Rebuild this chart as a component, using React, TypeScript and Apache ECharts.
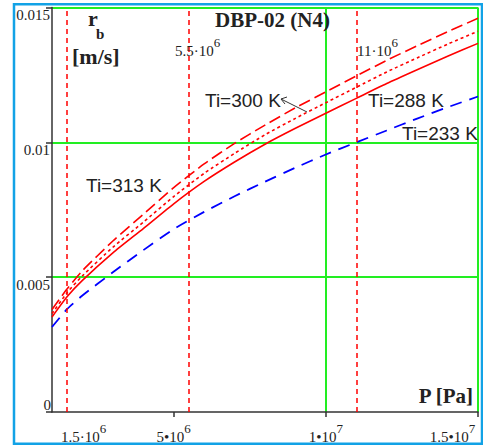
import React, { useEffect, useRef } from 'react';
import * as echarts from 'echarts';

// Pressure (Pa) sample points read along the x axis
const pressurePa = [1e6, 1.5e6, 2e6, 3e6, 4e6, 5e6, 6e6, 7e6, 8e6, 9e6, 1e7, 1.1e7, 1.2e7, 1.3e7, 1.4e7, 1.5e7];
// Burning rate r_b (m/s) for each initial temperature
const rb313 = [0.0038, 0.00457, 0.00524, 0.00634, 0.00733, 0.00832, 0.0092, 0.00996, 0.01064, 0.01128, 0.01187, 0.01246, 0.01304, 0.01358, 0.0141, 0.0146];
const rb300 = [0.00365, 0.00443, 0.00505, 0.00611, 0.00704, 0.00799, 0.00885, 0.00959, 0.01028, 0.01089, 0.01147, 0.01204, 0.01261, 0.01313, 0.01364, 0.01412];
const rb288 = [0.00352, 0.00428, 0.00488, 0.0059, 0.0068, 0.00772, 0.00855, 0.00927, 0.00993, 0.01052, 0.01108, 0.01163, 0.01218, 0.01269, 0.01319, 0.01367];
const rb233 = [0.00315, 0.00382, 0.00432, 0.00518, 0.006, 0.00678, 0.00742, 0.008, 0.00854, 0.00906, 0.00955, 0.01, 0.01044, 0.01088, 0.0113, 0.0117];

const yTickValues = [0, 0.005, 0.01, 0.015];
const yTickLabels = ['0', '0.005', '0.01', '0.015'];
const xTickValues = [5e6, 1e7, 1.5e7];
const xLabelValues = [1.5e6, 5e6, 1e7, 1.5e7];
const xLabelMantissas = ['1.5·10', '5•10', '1•10', '1.5•10'];
const xLabelExponents = ['6', '6', '7', '7'];
const markerPressures = [1.5e6, 5.5e6, 1.1e7];
const seriesNames = ['Ti=313 K', 'Ti=300 K', 'Ti=288 K', 'Ti=233 K'];

const SERIF = '"Liberation Serif", "Times New Roman", serif';
const SANS = '"Liberation Sans", Arial, sans-serif';
const INK = '#222222';
const GREEN = '#22ee22';
const RED = '#ff0000';
const BLUE = '#0000ff';

export default function App() {
  const ref = useRef<HTMLDivElement>(null);

  useEffect(() => {
    const chart = echarts.init(ref.current as HTMLDivElement, null, { renderer: 'svg' });
    const pts = (ys: number[]) => pressurePa.map((p, i) => [p, ys[i]]);

    const m = { fontFamily: SERIF, fontSize: 15, lineHeight: 30, color: INK, verticalAlign: 'middle' };
    const s = { fontFamily: SERIF, fontSize: 13, lineHeight: 13, color: INK, verticalAlign: 'top' };
    const xRich: any = {
      m,
      s,
      ml: { ...m, padding: [0, 0, 0, 33] },
      sr: { ...s, padding: [0, 51, 0, 0] },
    };

    const labelFor = (v: number) => {
      const i = xLabelValues.findIndex((x) => Math.abs(x - v) < 1);
      if (i < 0) return '';
      const mk = i === 0 ? 'ml' : 'm';
      const sk = i === xLabelValues.length - 1 ? 'sr' : 's';
      return `{${mk}|${xLabelMantissas[i]}}{${sk}|${xLabelExponents[i]}}`;
    };
    const yLabelFor = (v: number) => {
      const i = yTickValues.findIndex((y) => Math.abs(y - v) < 1e-9);
      return i < 0 ? '' : yTickLabels[i];
    };

    const supRich = (x: number, y: number, mant: string, exp: string, align: string) => ({
      type: 'text',
      x,
      y,
      z: 100,
      style: {
        text: `{m|${mant}}{s|${exp}}`,
        align,
        verticalAlign: 'middle',
        rich: {
          m: { fontFamily: SERIF, fontSize: 15, lineHeight: 30, fill: INK, verticalAlign: 'middle' },
          s: { fontFamily: SERIF, fontSize: 13, lineHeight: 13, fill: INK, verticalAlign: 'top' },
        },
      },
    });

    const tiText = (x: number, y: number, text: string) => ({
      type: 'text',
      x,
      y,
      z: 100,
      style: { text, fontFamily: SANS, fontSize: 19, fill: INK, verticalAlign: 'middle', align: 'left' },
    });

    chart.setOption({
      animation: false,
      backgroundColor: '#ffffff',
      grid: { left: 52, right: 5, top: 7.5, bottom: 36, containLabel: false, outerBoundsMode: 'none' },
      xAxis: {
        type: 'value',
        min: 1e6,
        max: 1.5e7,
        axisLine: { show: true, onZero: false, lineStyle: { color: '#333333', width: 1.5 } },
        axisTick: { show: true, customValues: xTickValues, length: 5, lineStyle: { color: '#333333', width: 1.5 } },
        axisLabel: { show: true, customValues: xLabelValues, formatter: labelFor, rich: xRich, margin: 10 },
        splitLine: { show: true, showMinLine: false, lineStyle: { color: GREEN, width: 2 } },
      },
      yAxis: [
        {
          type: 'value',
          min: 0,
          max: 0.015,
          interval: 0.005,
          position: 'left',
          axisLine: { show: true, lineStyle: { color: '#333333', width: 1.5 } },
          axisTick: { show: true, length: 6, lineStyle: { color: '#333333', width: 1.5 } },
          axisLabel: {
            formatter: (v: number) => (v === 0 ? '' : yLabelFor(v)),
            verticalAlign: 'top',
            align: 'right',
            margin: 2,
            fontFamily: SERIF,
            fontSize: 15,
            color: INK,
          },
          splitLine: { show: true, showMinLine: false, lineStyle: { color: GREEN, width: 2 } },
        },
        {
          type: 'value',
          min: 0,
          max: 0.015,
          interval: 0.005,
          position: 'left',
          offset: 0,
          axisLine: { show: false },
          axisTick: { show: false },
          splitLine: { show: false },
          axisLabel: {
            formatter: (v: number) => (v === 0 ? yTickLabels[0] : ''),
            verticalAlign: 'bottom',
            align: 'right',
            margin: 1,
            fontFamily: SERIF,
            fontSize: 15,
            color: INK,
          },
        },
      ],
      series: [
        {
          name: seriesNames[0],
          type: 'line',
          data: pts(rb313),
          showSymbol: false,
          smooth: 0.2,
          lineStyle: { color: RED, width: 1.6, type: [12, 5] },
        },
        {
          name: seriesNames[1],
          type: 'line',
          data: pts(rb300),
          showSymbol: false,
          smooth: 0.2,
          lineStyle: { color: RED, width: 1.6, type: [3, 3] },
        },
        {
          name: seriesNames[2],
          type: 'line',
          data: pts(rb288),
          showSymbol: false,
          smooth: 0.2,
          lineStyle: { color: RED, width: 1.6, type: 'solid' },
          markLine: {
            silent: true,
            symbol: ['none', 'none'],
            label: { show: false },
            lineStyle: { color: RED, width: 1.5, type: [5, 4] },
            data: markerPressures.map((p) => ({ xAxis: p })),
          },
        },
        {
          name: seriesNames[3],
          type: 'line',
          data: pts(rb233),
          showSymbol: false,
          smooth: 0.2,
          lineStyle: { color: BLUE, width: 1.8, type: [12, 8] },
        },
      ],
      graphic: [
        {
          type: 'rect',
          z: 100,
          shape: { x: 14, y: 4.3, width: 468, height: 439.5 },
          style: { fill: 'none', stroke: '#12a2e6', lineWidth: 2.5 },
        },
        {
          type: 'text', x: 215, y: 20, z: 100,
          style: { text: 'DBP-02 (N4)', fontFamily: SERIF, fontWeight: 'bold', fontSize: 21, fill: INK, verticalAlign: 'middle' },
        },
        {
          type: 'text', x: 88, y: 18.6, z: 100,
          style: { text: 'r', fontFamily: SERIF, fontWeight: 'bold', fontSize: 22, fill: INK, verticalAlign: 'middle' },
        },
        {
          type: 'text', x: 96, y: 34, z: 100,
          style: { text: 'b', fontFamily: SERIF, fontWeight: 'bold', fontSize: 15, fill: INK, verticalAlign: 'middle' },
        },
        {
          type: 'text', x: 72, y: 56, z: 100,
          style: { text: '[m/s]', fontFamily: SERIF, fontWeight: 'bold', fontSize: 22, fill: INK, verticalAlign: 'middle' },
        },
        {
          type: 'text', x: 473, y: 396, z: 100,
          style: { text: 'P [Pa]', fontFamily: SERIF, fontWeight: 'bold', fontSize: 21, fill: INK, verticalAlign: 'middle', align: 'right' },
        },
        supRich(175, 51, '5.5·10', '6', 'left'),
        supRich(357, 51, '11·10', '6', 'left'),
        tiText(205, 100.4, seriesNames[1]),
        tiText(86, 185.4, seriesNames[0]),
        tiText(368, 100.4, seriesNames[2]),
        tiText(402, 133.4, seriesNames[3]),
        {
          type: 'line', z: 100,
          shape: { x1: 281, y1: 99, x2: 307, y2: 112 },
          style: { stroke: '#333333', lineWidth: 1 },
        },
        {
          type: 'polyline', z: 100,
          shape: { points: [[287, 97], [281, 99], [285, 104]] },
          style: { stroke: '#333333', lineWidth: 1, fill: 'none' },
        },
      ],
    });

    return () => chart.dispose();
  }, []);

  return <div ref={ref} style={{ position: 'absolute', left: 0, top: 0, width: 483, height: 448 }} />;
}
